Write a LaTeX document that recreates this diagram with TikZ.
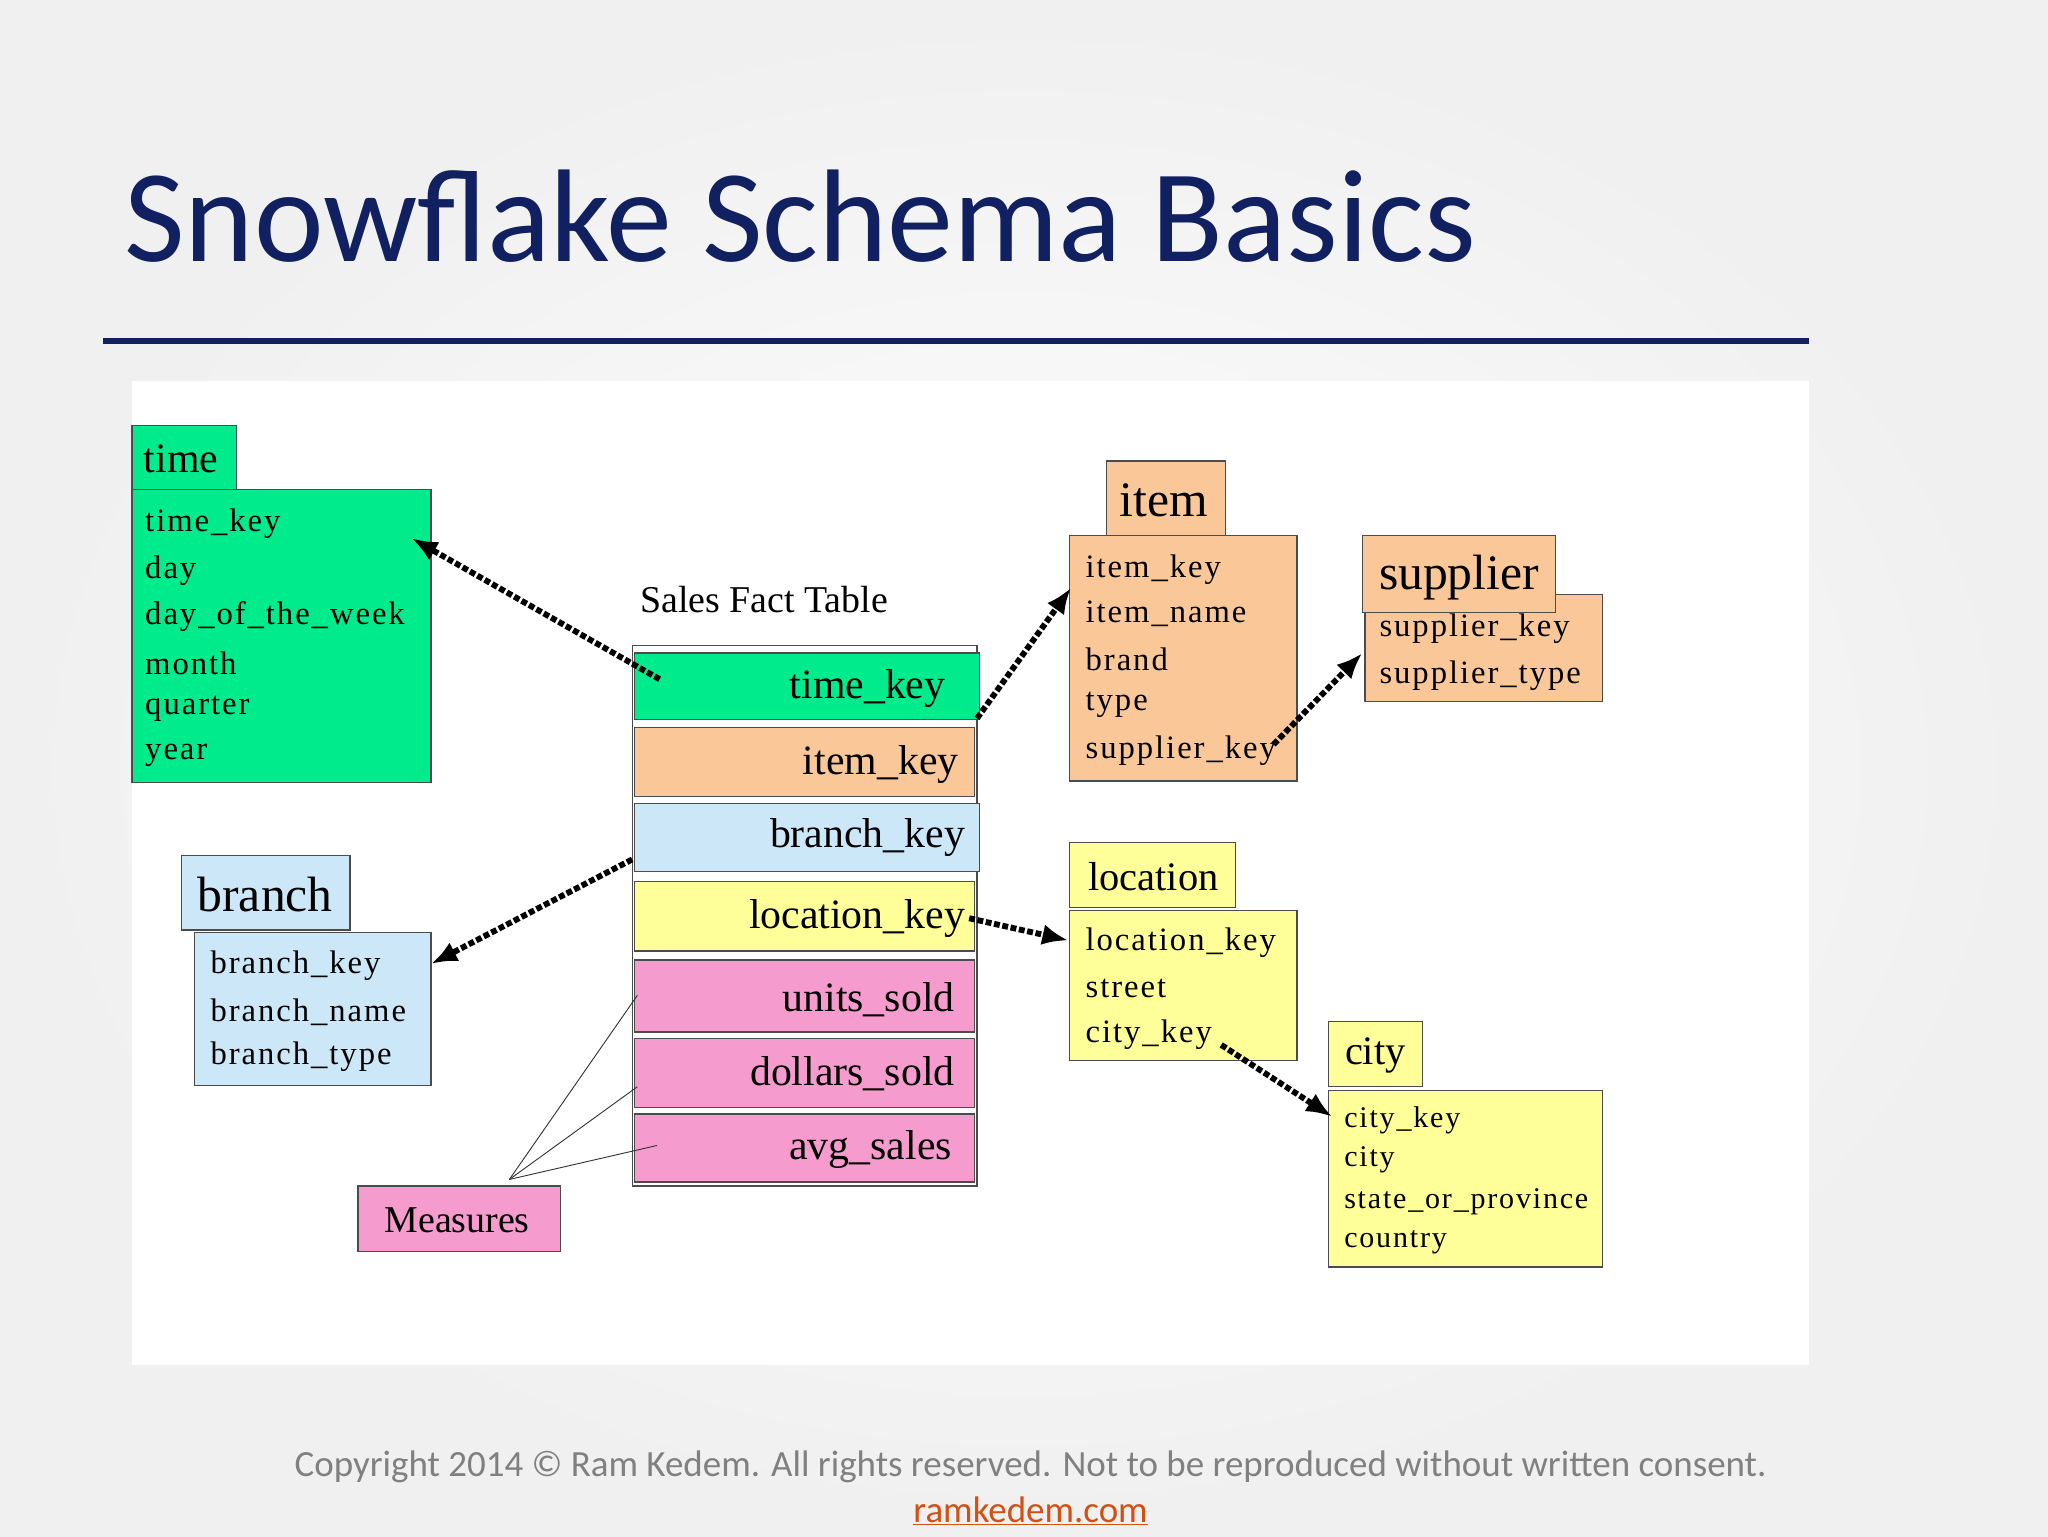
\documentclass[tikz,border=0pt]{standalone}
\usepackage{fontspec}
\setmainfont{Liberation Serif}
\newfontfamily\slidefont{Carlito}
\newfontfamily\wideserif[LetterSpace=6]{Liberation Serif}
\usetikzlibrary{arrows.meta}
\definecolor{tgreen}{RGB}{0,235,140}
\definecolor{torange}{RGB}{250,200,152}
\definecolor{tblue}{RGB}{204,232,248}
\definecolor{tyellow}{RGB}{255,255,153}
\definecolor{tpink}{RGB}{245,155,205}
\definecolor{navy}{RGB}{16,32,96}
\definecolor{footgray}{RGB}{128,128,128}
\definecolor{linkc}{RGB}{210,80,20}
\tikzset{
 tbl/.style={draw=black!70,line width=1pt,inner sep=0pt},
 fld/.style={anchor=west,font=\wideserif\fontsize{25}{25}\selectfont,inner sep=0pt},
 hdr/.style={font=\fontsize{38}{38}\selectfont,inner sep=0pt},
 row/.style={anchor=east,font=\fontsize{32}{32}\selectfont,inner sep=0pt},
 dotarr/.style={line width=4.5pt,dotted,-{Latex[length=20pt,width=16pt]}},
 thin/.style={line width=0.7pt,black!80}
}
\begin{document}
\begin{tikzpicture}[x=1pt,y=-1pt]
\useasboundingbox (0,0) rectangle (1568,1176);
\shade[inner color=white,outer color=black!6] (0,0) rectangle (1568,1176);
\fill[white] (101,292) rectangle (1385,1045);
\node[anchor=base west,text=navy,font=\slidefont\fontsize{101}{101}\selectfont,inner sep=0pt] (title) at (95,200) {Snowflake Schema Basics};
\draw[navy,line width=4pt] (79,261) -- (1385,261);
% time
\draw[tbl,fill=tgreen] (101,326) rectangle (181,375);
\node[hdr,anchor=west,font=\fontsize{32}{32}\selectfont] (timeh) at (110,351) {time};
\draw[tbl,fill=tgreen] (101,375) rectangle (330,599);
\foreach \t/\y in {time\_key/401,day/437,day\_of\_the\_week/472,month/508,quarter/543,year/578}
  \node[fld] at (111,\y) {\t};
% sales label
\node[anchor=west,font=\fontsize{29}{29}\selectfont,inner sep=0pt] (sft) at (490,459) {Sales Fact Table};
\draw[tbl] (484,494) rectangle (748,908);
\draw[tbl,fill=tgreen] (486,500) rectangle (750,551);
\draw[tbl,fill=torange] (486,557) rectangle (746,610);
\draw[tbl,fill=tblue] (486,615) rectangle (750,667);
\draw[tbl,fill=tyellow] (486,675) rectangle (746,728);
\draw[tbl,fill=tpink] (486,735) rectangle (746,790);
\draw[tbl,fill=tpink] (486,795) rectangle (746,848);
\draw[tbl,fill=tpink] (486,853) rectangle (746,905);
\node[row] (r1) at (724,527) {time\_key};
\node[row] (r2) at (734,585) {item\_key};
\node[row] (r3) at (739,641) {branch\_key};
\node[row] (r4) at (739,703) {location\_key};
\node[row] (r5) at (731,765) {units\_sold};
\node[row] (r6) at (731,822) {dollars\_sold};
\node[row] (r7) at (729,880) {avg\_sales};
% item
\draw[tbl,fill=torange] (847,353) rectangle (938,410);
\node[hdr] (itemh) at (891,383) {item};
\draw[tbl,fill=torange] (819,410) rectangle (993,598);
\foreach \t/\y in {item\_key/436,item\_name/470,brand/505,type/540,supplier\_key/575}
  \node[fld] at (831,\y) {\t};
% supplier
\draw[tbl,fill=torange] (1045,455) rectangle (1227,537);
\draw[tbl,fill=torange] (1043,410) rectangle (1191,469);
\node[hdr] (suph) at (1117,442) {supplier};
\node[fld] at (1056,481) {supplier\_key};
\node[fld] at (1056,517) {supplier\_type};
% branch
\draw[tbl,fill=tblue] (139,655) rectangle (268,712);
\node[hdr] (brh) at (203,685) {branch};
\draw[tbl,fill=tblue] (149,714) rectangle (330,831);
\foreach \t/\y in {branch\_key/739,branch\_name/775,branch\_type/809}
  \node[fld] at (161,\y) {\t};
% location
\draw[tbl,fill=tyellow] (819,645) rectangle (946,695);
\node[hdr,font=\fontsize{31}{31}\selectfont] (loch) at (883,671) {location};
\draw[tbl,fill=tyellow] (819,697) rectangle (993,812);
\foreach \t/\y in {location\_key/722,street/757,city\_key/792}
  \node[fld] at (831,\y) {\t};
% city
\draw[tbl,fill=tyellow] (1017,782) rectangle (1089,832);
\node[hdr,font=\fontsize{31}{31}\selectfont] (cityh) at (1053,808) {city};
\draw[tbl,fill=tyellow] (1017,835) rectangle (1227,970);
\foreach \t/\y in {city\_key/858,city/888,state\_or\_province/920,country/951}
  \node[fld,font=\wideserif\fontsize{23}{23}\selectfont] at (1029,\y) {\t};
% measures
\draw[tbl,fill=tpink] (274,908) rectangle (429,958);
\node[font=\fontsize{29}{29}\selectfont,inner sep=0pt] (meas) at (350,934) {Measures};
\coordinate (mtop) at (390,903);
\coordinate (m1) at (488,762);
\coordinate (m2) at (488,832);
\coordinate (m3) at (503,877);
\draw[thin] (mtop) -- (m1);
\draw[thin] (mtop) -- (m2);
\draw[thin] (mtop) -- (m3);
% arrows
\coordinate (a1s) at (505,520); \coordinate (a1e) at (315,412);
\coordinate (a2s) at (748,550); \coordinate (a2e) at (820,450);
\coordinate (a3s) at (975,570); \coordinate (a3e) at (1043,500);
\coordinate (a4s) at (484,658); \coordinate (a4e) at (330,738);
\coordinate (a5s) at (742,703); \coordinate (a5e) at (818,720);
\coordinate (a6s) at (935,800); \coordinate (a6e) at (1020,855);
\foreach \s/\e in {a1s/a1e,a2s/a2e,a3s/a3e,a4s/a4e,a5s/a5e,a6s/a6e}
  \draw[dotarr] (\s) -- (\e);
% footer
\node[text=footgray,font=\slidefont\fontsize{28.3}{28.3}\selectfont,inner sep=0pt] (foot) at (789,1123) {Copyright 2014 © Ram Kedem. All rights reserved. Not to be reproduced without written consent.};
\node[text=linkc,font=\slidefont\fontsize{28.3}{28.3}\selectfont,inner sep=0pt] (link) at (789,1157) {\underline{ramkedem.com}};
\end{tikzpicture}
\end{document}
